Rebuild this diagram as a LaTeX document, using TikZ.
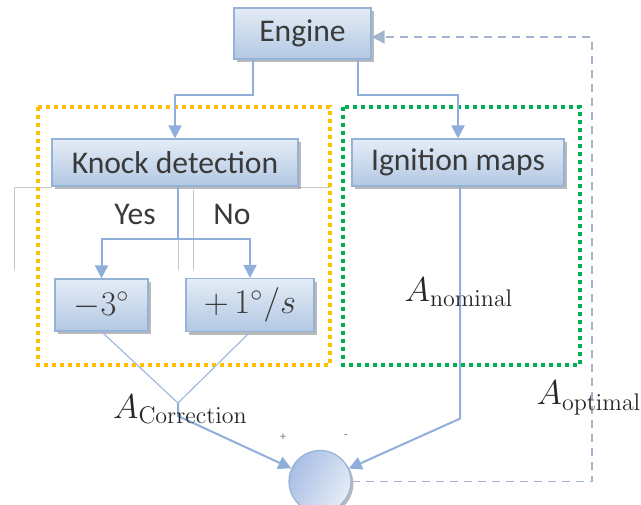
\documentclass[tikz,border=0pt]{standalone}
\usepackage[no-math]{fontspec}
\setmainfont{Carlito}
\usepackage{tikz}
\usetikzlibrary{shapes.geometric, arrows.meta, positioning, shadows, calc}
\usepackage{xcolor}
\definecolor{boxline}{HTML}{95B3D7}
\definecolor{boxtop}{HTML}{E4ECF6}
\definecolor{boxbottom}{HTML}{B3C8E3}
\definecolor{linkblue}{HTML}{8FAEDA}
\definecolor{fbgray}{HTML}{A3B4CE}
\definecolor{knockorange}{HTML}{FFC000}
\definecolor{mapgreen}{HTML}{00B050}
\definecolor{txtgray}{HTML}{3A3A3A}
\tikzstyle{process} = [rectangle, inner sep=0pt, draw=boxline, line width=0.6pt, top color=boxtop, bottom color=boxbottom, text=txtgray, font=\fontsize{15.8}{18}\selectfont, drop shadow={shadow xshift=1.5pt, shadow yshift=-1.5pt, fill=black!50, opacity=0.55}]
\tikzstyle{mathbox} = [process, font=\fontsize{17.28}{20}\selectfont]
\tikzstyle{sumnode} = [circle, minimum size=31pt, inner sep=0pt, draw=boxline, line width=0.6pt, left color=boxbottom!95!blue, right color=boxtop, shading angle=60, drop shadow={shadow xshift=1.2pt, shadow yshift=-1.2pt, fill=black!50, opacity=0.55}]
\tikzstyle{arrow} = [draw=linkblue, line width=1pt, -{Triangle[length=6.5pt, width=6.5pt]}]
\tikzstyle{thinlink} = [draw=linkblue!85, line width=0.6pt]
\tikzstyle{dasharrow} = [draw=fbgray, line width=0.9pt, dash pattern=on 4pt off 3pt, -{Triangle[length=6.5pt, width=6.5pt]}]
\tikzstyle{group} = [line width=2pt, dash pattern=on 2pt off 2pt]
\tikzstyle{ghost} = [draw=black!22, line width=0.4pt]
\tikzstyle{label} = [text=txtgray, font=\fontsize{15.8}{18}\selectfont]
\tikzstyle{mathlabel} = [text=black!85, font=\fontsize{17.28}{20}\selectfont]
\tikzstyle{sign} = [text=black!55, font=\fontsize{6}{7}\selectfont]

\begin{document}
\begin{tikzpicture}[x=1pt, y=-1pt, node distance=64.5pt]
    \useasboundingbox (0,0) rectangle (320.5,252);

    \draw [ghost] (7,93.5) -- (26,93.5);
    \draw [ghost] (149,93.5) -- (165,93.5);
    \draw [ghost] (7,93.5) -- (7,135);
    \draw [ghost] (96.5,95) -- (96.5,135);
    \draw [ghost] (89,119) -- (89,135);

    \draw [group, draw=knockorange] (19,53.5) rectangle (165,182.5);
    \draw [group, draw=mapgreen] (171.5,53.5) rectangle (290,182.5);

    \node (engine) [process, minimum width=68.5pt, minimum height=25.5pt] at (151.25,16.75) {Engine};

    \node (knock) [process, below of=engine, xshift=-63.75pt, minimum width=123pt, minimum height=23.5pt] {Knock detection};
    \node (ignition) [process, below of=engine, xshift=77.75pt, minimum width=106pt, minimum height=23.5pt] {Ignition maps};

    \node (minus) [mathbox, below of=knock, xshift=-36.75pt, yshift=-6.75pt, minimum width=46.5pt, minimum height=26pt] {$-3^{\circ}$};
    \node (plus) [mathbox, below of=knock, xshift=37.5pt, yshift=-6.75pt, minimum width=64pt, minimum height=26.5pt] {$+\,1^{\circ}/s$};

    \node (sum) [sumnode, below of=plus, xshift=35pt, yshift=-23.75pt] {};

    \node (yes) [label] at (67.5,107) {Yes};
    \node (no) [label] at (116,107) {No};

    \coordinate (merge) at (89,201.5);

    \draw [arrow] ([xshift=-25pt]engine.south) -- ++(0,-17.5pt) -| (knock.north);
    \draw [arrow] ([xshift=27.75pt]engine.south) -- ++(0,-17.5pt) -| (ignition.north);

    \draw [arrow] ([xshift=1.5pt]knock.south) -- ++(0,-26pt) -| (minus.north);
    \draw [arrow] ([xshift=1.5pt]knock.south) -- ++(0,-26pt) -| (plus.north);

    \draw [thinlink] (minus.south) -- (merge);
    \draw [thinlink] (plus.south) -- (merge);
    \draw [arrow] (merge) -- ++(0,-6.5pt) -- (sum);
    \draw [arrow] ([xshift=1pt]ignition.south) -- ++(0,-116pt) -- (sum);

    \draw [dasharrow] (sum.east) -- ++(120pt,0) |- ([yshift=-1.75pt]engine.east);

    \node (anominal) [mathlabel] at (229.5,146) {$A_{\mathrm{nominal}}$};
    \node (acorr) [mathlabel] at (90.25,204.5) {$A_{\mathrm{Correction}}$};
    \node (aopt) [mathlabel] at (294.5,199) {$A_{\mathrm{optimal}}$};

    \node (plussign) [sign] at (141.5,218.5) {+};
    \node (minussign) [sign] at (173,218.5) {-};
\end{tikzpicture}
\end{document}
